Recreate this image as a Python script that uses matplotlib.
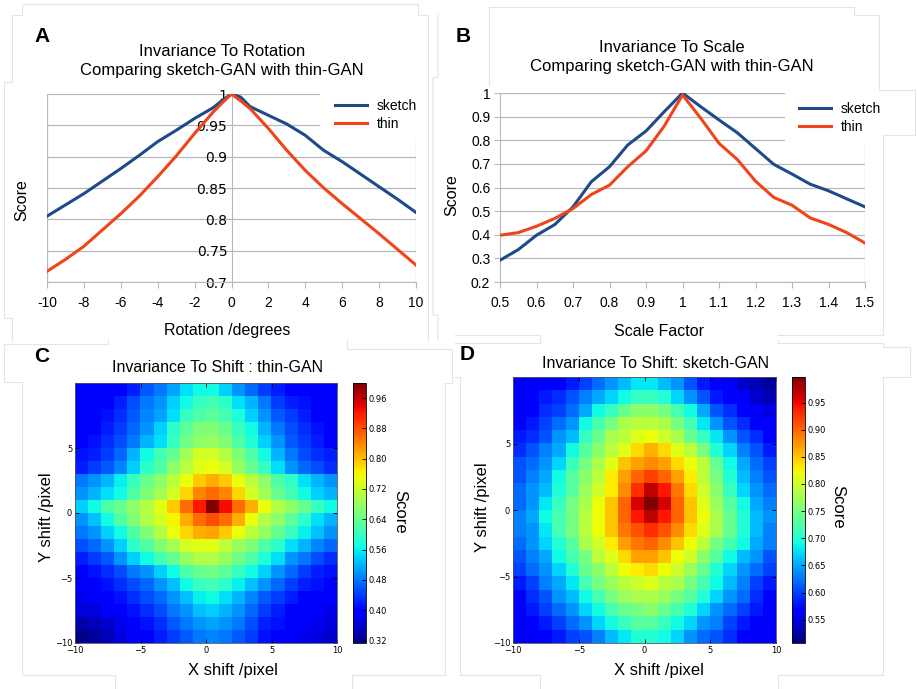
import matplotlib
matplotlib.use("Agg")
import matplotlib.pyplot as plt
from matplotlib.patches import Rectangle
from matplotlib.lines import Line2D
import numpy as np

# ---- panel A: rotation ----
rot_deg = [-10, -9, -8, -7, -6, -5, -4, -3, -2, -1, -0.5, 0, 0.5, 1, 2, 3, 4, 5, 6, 7, 8, 9, 10]
rot_sketch = [0.805, 0.823, 0.841, 0.861, 0.881, 0.902, 0.924, 0.942, 0.961, 0.978, 0.990, 1.0,
              0.995, 0.980, 0.966, 0.952, 0.934, 0.910, 0.892, 0.872, 0.852, 0.832, 0.811]
rot_thin = [0.717, 0.736, 0.757, 0.783, 0.809, 0.837, 0.868, 0.901, 0.937, 0.971, 0.986, 1.0,
            0.989, 0.977, 0.945, 0.910, 0.878, 0.850, 0.825, 0.801, 0.777, 0.752, 0.727]

# ---- panel B: scale ----
scale_factor = [0.5, 0.55, 0.6, 0.65, 0.7, 0.75, 0.8, 0.85, 0.9, 0.95, 1.0,
                1.05, 1.1, 1.15, 1.2, 1.25, 1.3, 1.35, 1.4, 1.45, 1.5]
scale_sketch = [0.292, 0.337, 0.398, 0.443, 0.518, 0.624, 0.688, 0.780, 0.839, 0.921, 1.0,
                0.942, 0.886, 0.832, 0.765, 0.698, 0.657, 0.614, 0.586, 0.552, 0.518]
scale_thin = [0.398, 0.409, 0.436, 0.469, 0.511, 0.570, 0.610, 0.688, 0.755, 0.860, 0.992,
              0.893, 0.787, 0.719, 0.627, 0.558, 0.525, 0.471, 0.444, 0.409, 0.365]

# ---- panel C: shift, thin-GAN (rows top y=9.5 -> bottom y=-9.5, cols x=-9.5 -> 9.5) ----
thin_shift = [
    [0.39, 0.39, 0.40, 0.40, 0.42, 0.46, 0.48, 0.51, 0.55, 0.57, 0.57, 0.54, 0.50, 0.47, 0.44, 0.42, 0.40, 0.40, 0.40, 0.39],
    [0.39, 0.39, 0.40, 0.42, 0.45, 0.48, 0.50, 0.54, 0.57, 0.60, 0.61, 0.59, 0.55, 0.52, 0.48, 0.44, 0.42, 0.41, 0.40, 0.39],
    [0.39, 0.40, 0.41, 0.43, 0.46, 0.49, 0.51, 0.55, 0.60, 0.62, 0.63, 0.61, 0.58, 0.54, 0.50, 0.46, 0.44, 0.42, 0.40, 0.40],
    [0.39, 0.40, 0.42, 0.44, 0.47, 0.50, 0.54, 0.59, 0.63, 0.66, 0.66, 0.64, 0.60, 0.57, 0.52, 0.48, 0.45, 0.43, 0.41, 0.40],
    [0.40, 0.41, 0.43, 0.45, 0.48, 0.52, 0.55, 0.60, 0.65, 0.67, 0.68, 0.66, 0.62, 0.58, 0.54, 0.50, 0.46, 0.44, 0.42, 0.40],
    [0.41, 0.42, 0.44, 0.47, 0.52, 0.57, 0.61, 0.64, 0.69, 0.73, 0.73, 0.70, 0.66, 0.62, 0.57, 0.52, 0.48, 0.45, 0.43, 0.42],
    [0.42, 0.44, 0.46, 0.49, 0.54, 0.59, 0.62, 0.67, 0.71, 0.74, 0.75, 0.73, 0.68, 0.64, 0.60, 0.55, 0.50, 0.47, 0.45, 0.43],
    [0.48, 0.50, 0.52, 0.56, 0.60, 0.64, 0.67, 0.71, 0.75, 0.79, 0.81, 0.79, 0.75, 0.71, 0.67, 0.62, 0.59, 0.55, 0.52, 0.50],
    [0.50, 0.52, 0.55, 0.57, 0.62, 0.66, 0.69, 0.73, 0.78, 0.84, 0.86, 0.84, 0.78, 0.73, 0.69, 0.64, 0.61, 0.57, 0.54, 0.52],
    [0.54, 0.57, 0.62, 0.64, 0.67, 0.70, 0.74, 0.79, 0.86, 0.92, 1.00, 0.93, 0.86, 0.81, 0.75, 0.70, 0.67, 0.64, 0.60, 0.57],
    [0.50, 0.53, 0.57, 0.62, 0.66, 0.70, 0.73, 0.76, 0.81, 0.86, 0.88, 0.86, 0.81, 0.75, 0.70, 0.67, 0.63, 0.59, 0.55, 0.52],
    [0.48, 0.50, 0.54, 0.57, 0.62, 0.66, 0.70, 0.75, 0.78, 0.81, 0.82, 0.79, 0.75, 0.71, 0.68, 0.64, 0.60, 0.56, 0.53, 0.50],
    [0.45, 0.47, 0.50, 0.54, 0.59, 0.62, 0.66, 0.69, 0.73, 0.74, 0.74, 0.71, 0.68, 0.66, 0.62, 0.59, 0.55, 0.52, 0.49, 0.47],
    [0.42, 0.44, 0.46, 0.50, 0.54, 0.57, 0.61, 0.64, 0.68, 0.70, 0.70, 0.68, 0.65, 0.62, 0.58, 0.55, 0.50, 0.48, 0.45, 0.43],
    [0.40, 0.41, 0.43, 0.45, 0.48, 0.50, 0.54, 0.57, 0.62, 0.64, 0.65, 0.63, 0.60, 0.57, 0.54, 0.50, 0.47, 0.44, 0.42, 0.41],
    [0.40, 0.40, 0.41, 0.43, 0.45, 0.47, 0.50, 0.53, 0.57, 0.60, 0.61, 0.59, 0.56, 0.53, 0.50, 0.47, 0.44, 0.42, 0.41, 0.40],
    [0.38, 0.39, 0.40, 0.41, 0.43, 0.45, 0.47, 0.50, 0.53, 0.56, 0.57, 0.55, 0.52, 0.49, 0.46, 0.44, 0.42, 0.40, 0.40, 0.39],
    [0.37, 0.37, 0.39, 0.40, 0.41, 0.43, 0.45, 0.48, 0.50, 0.53, 0.54, 0.52, 0.50, 0.47, 0.44, 0.42, 0.40, 0.40, 0.39, 0.38],
    [0.34, 0.35, 0.36, 0.38, 0.40, 0.41, 0.43, 0.46, 0.48, 0.50, 0.51, 0.50, 0.48, 0.45, 0.42, 0.41, 0.40, 0.39, 0.38, 0.37],
    [0.32, 0.33, 0.35, 0.37, 0.39, 0.40, 0.42, 0.44, 0.46, 0.48, 0.49, 0.48, 0.46, 0.44, 0.41, 0.40, 0.39, 0.38, 0.37, 0.36],
]

# ---- panel D: shift, sketch-GAN ----
sketch_shift = [
    [0.56, 0.56, 0.57, 0.57, 0.58, 0.60, 0.62, 0.64, 0.66, 0.68, 0.68, 0.66, 0.64, 0.61, 0.58, 0.57, 0.56, 0.54, 0.53, 0.52],
    [0.56, 0.57, 0.58, 0.59, 0.61, 0.63, 0.65, 0.67, 0.69, 0.71, 0.71, 0.70, 0.67, 0.64, 0.61, 0.58, 0.57, 0.56, 0.54, 0.53],
    [0.57, 0.57, 0.59, 0.60, 0.62, 0.65, 0.69, 0.71, 0.74, 0.76, 0.76, 0.75, 0.72, 0.69, 0.65, 0.61, 0.59, 0.57, 0.56, 0.55],
    [0.57, 0.58, 0.60, 0.62, 0.64, 0.69, 0.72, 0.75, 0.78, 0.79, 0.79, 0.78, 0.75, 0.72, 0.68, 0.64, 0.61, 0.59, 0.57, 0.56],
    [0.58, 0.59, 0.61, 0.64, 0.66, 0.71, 0.74, 0.78, 0.79, 0.81, 0.82, 0.80, 0.78, 0.74, 0.71, 0.68, 0.64, 0.61, 0.59, 0.57],
    [0.59, 0.61, 0.63, 0.65, 0.69, 0.73, 0.76, 0.79, 0.81, 0.84, 0.86, 0.84, 0.81, 0.79, 0.75, 0.70, 0.67, 0.63, 0.61, 0.58],
    [0.61, 0.62, 0.64, 0.67, 0.71, 0.75, 0.78, 0.81, 0.85, 0.87, 0.88, 0.87, 0.84, 0.82, 0.79, 0.74, 0.69, 0.65, 0.62, 0.60],
    [0.61, 0.63, 0.65, 0.69, 0.73, 0.76, 0.79, 0.83, 0.87, 0.90, 0.92, 0.90, 0.87, 0.83, 0.79, 0.75, 0.70, 0.66, 0.63, 0.61],
    [0.62, 0.64, 0.66, 0.70, 0.73, 0.77, 0.80, 0.83, 0.88, 0.93, 0.97, 0.94, 0.89, 0.84, 0.80, 0.76, 0.71, 0.67, 0.64, 0.62],
    [0.62, 0.64, 0.68, 0.71, 0.75, 0.78, 0.82, 0.85, 0.90, 0.96, 1.00, 0.96, 0.90, 0.85, 0.81, 0.77, 0.73, 0.69, 0.65, 0.63],
    [0.63, 0.65, 0.69, 0.72, 0.75, 0.79, 0.82, 0.85, 0.90, 0.94, 0.97, 0.94, 0.90, 0.85, 0.82, 0.78, 0.74, 0.70, 0.66, 0.64],
    [0.63, 0.64, 0.68, 0.72, 0.75, 0.79, 0.82, 0.85, 0.89, 0.91, 0.93, 0.91, 0.88, 0.84, 0.81, 0.78, 0.74, 0.70, 0.66, 0.63],
    [0.62, 0.64, 0.67, 0.70, 0.73, 0.78, 0.80, 0.83, 0.87, 0.89, 0.90, 0.88, 0.85, 0.82, 0.79, 0.75, 0.72, 0.69, 0.65, 0.63],
    [0.61, 0.63, 0.65, 0.69, 0.72, 0.75, 0.79, 0.81, 0.84, 0.87, 0.87, 0.85, 0.82, 0.80, 0.76, 0.73, 0.69, 0.66, 0.64, 0.61],
    [0.60, 0.62, 0.64, 0.67, 0.70, 0.74, 0.76, 0.79, 0.82, 0.83, 0.84, 0.82, 0.80, 0.77, 0.74, 0.70, 0.67, 0.64, 0.62, 0.60],
    [0.58, 0.60, 0.63, 0.65, 0.68, 0.72, 0.75, 0.77, 0.79, 0.80, 0.81, 0.79, 0.78, 0.75, 0.72, 0.69, 0.66, 0.63, 0.60, 0.58],
    [0.57, 0.59, 0.61, 0.64, 0.66, 0.69, 0.72, 0.75, 0.77, 0.78, 0.78, 0.77, 0.75, 0.73, 0.70, 0.67, 0.64, 0.62, 0.59, 0.57],
    [0.57, 0.58, 0.60, 0.62, 0.64, 0.67, 0.69, 0.72, 0.74, 0.75, 0.76, 0.74, 0.72, 0.70, 0.67, 0.64, 0.62, 0.60, 0.58, 0.57],
    [0.56, 0.57, 0.58, 0.60, 0.62, 0.64, 0.67, 0.69, 0.71, 0.73, 0.73, 0.71, 0.69, 0.67, 0.64, 0.63, 0.60, 0.58, 0.57, 0.56],
    [0.56, 0.56, 0.57, 0.58, 0.60, 0.61, 0.63, 0.66, 0.68, 0.70, 0.70, 0.69, 0.67, 0.64, 0.62, 0.61, 0.59, 0.57, 0.56, 0.56],
]

SKETCH = "#1f4a8a"
THIN = "#f0441a"
GRID = "#b8b8b8"
FRAME = "#e4e4e4"
W, H = 917, 689
LO = "Liberation Sans"

fig = plt.figure(figsize=(W / 100, H / 100), dpi=100)


def fx(px):
    return px / W


def fy(py):
    return 1 - py / H


def line_chart(rect, x, ys, xlim, ylim, xticks, xlabels, yticks, ylabels):
    ax = fig.add_axes(rect)
    ax.plot(x, ys[0], color=SKETCH, lw=2.2, label="sketch", zorder=3)
    ax.plot(x, ys[1], color=THIN, lw=2.2, label="thin", zorder=3)
    ax.set_xlim(*xlim)
    ax.set_ylim(*ylim)
    ax.set_xticks(xticks)
    ax.set_xticklabels(xlabels, family=LO)
    ax.set_yticks(yticks)
    ax.set_yticklabels(ylabels, family=LO)
    ax.yaxis.grid(True, color=GRID, lw=0.9)
    ax.set_axisbelow(True)
    for s in ["top", "right"]:
        ax.spines[s].set_visible(False)
    for s in ["left", "bottom"]:
        ax.spines[s].set_color(GRID)
    ax.tick_params(axis="x", length=4, color=GRID, labelsize=10, pad=6)
    ax.tick_params(axis="y", length=4, color=GRID, labelsize=10, pad=3)
    return ax


# ============ A ============
axA = line_chart([fx(47), fy(282), fx(369), 188 / H], rot_deg, [rot_sketch, rot_thin],
                 (-10, 10), (0.7, 1.0), list(range(-10, 11, 2)), [str(v) for v in range(-10, 11, 2)],
                 [0.7, 0.75, 0.8, 0.85, 0.9, 0.95, 1.0], ["0.7", "0.75", "0.8", "0.85", "0.9", "0.95", "1"])
axA.spines["left"].set_position(("data", 0))
axA.tick_params(axis="y", length=0)
axA.axvline(-10, color=GRID, lw=0.9, zorder=1)
axA.axvline(10, color=GRID, lw=0.9, zorder=1)

# ============ B ============
axB = line_chart([fx(500), fy(282), fx(365), 189 / H], scale_factor, [scale_sketch, scale_thin],
                 (0.5, 1.5), (0.2, 1.0),
                 [0.5, 0.6, 0.7, 0.8, 0.9, 1.0, 1.1, 1.2, 1.3, 1.4, 1.5],
                 ["0.5", "0.6", "0.7", "0.8", "0.9", "1", "1.1", "1.2", "1.3", "1.4", "1.5"],
                 [0.2, 0.3, 0.4, 0.5, 0.6, 0.7, 0.8, 0.9, 1.0],
                 ["0.2", "0.3", "0.4", "0.5", "0.6", "0.7", "0.8", "0.9", "1"])
axB.axvline(1.5, color=GRID, lw=0.9, zorder=1)

# white legend boxes covering the plot corner, then the legends
for (x0, y0, x1, y1) in [(320, 84, 430, 140), (785, 88, 914, 143)]:
    fig.add_artist(Rectangle((fx(x0), fy(y1)), fx(x1 - x0), (y1 - y0) / H, transform=fig.transFigure,
                             facecolor="white", edgecolor="none", zorder=2))
handles, labels = axA.get_legend_handles_labels()
for anchor in [(fx(324), fy(88)), (fx(788), fy(91))]:
    leg = fig.legend(handles, labels, loc="upper left", bbox_to_anchor=anchor, frameon=False,
                     handlelength=2.3, handletextpad=0.7, labelspacing=0.25, borderpad=0.3,
                     prop={"family": LO, "size": 10})
    leg.set_zorder(3)

# titles / labels for the top row
fig.text(fx(222), fy(61), "Invariance To Rotation\nComparing sketch-GAN with thin-GAN",
         ha="center", va="center", fontsize=12, family=LO, linespacing=1.38)
fig.text(fx(672), fy(57), "Invariance To Scale\nComparing sketch-GAN with thin-GAN",
         ha="center", va="center", fontsize=12, family=LO, linespacing=1.38)
fig.text(fx(22), fy(200), "Score", rotation=90, ha="center", va="center", fontsize=11.5, family=LO)
fig.text(fx(452), fy(195), "Score", rotation=90, ha="center", va="center", fontsize=11.5, family=LO)
fig.text(fx(227), fy(331), "Rotation /degrees", ha="center", va="center", fontsize=11.5, family=LO)
fig.text(fx(659), fy(331), "Scale Factor", ha="center", va="center", fontsize=11.5, family=LO)


# ============ C / D heatmaps ============
def shift_panel(rect, crect, data, vmin, vmax, cticks, title, tpos, ylpos, xlpos, cbpos):
    ax = fig.add_axes(rect)
    im = ax.imshow(np.array(data), cmap="jet", origin="upper", extent=[-10, 10, -10, 10],
                   interpolation="nearest", aspect="auto", vmin=vmin, vmax=vmax)
    ax.set_xticks([-10, -5, 0, 5, 10])
    ax.set_yticks([-10, -5, 0, 5])
    ax.tick_params(direction="in", top=True, right=True, labelsize=6, length=3, width=0.6, pad=2)
    for s in ax.spines.values():
        s.set_linewidth(0.6)
        s.set_color("#555555")
    cax = fig.add_axes(crect)
    cb = fig.colorbar(im, cax=cax, ticks=cticks, format="%.2f")
    cb.ax.tick_params(labelsize=6, length=3, width=0.6, direction="in", pad=2)
    cb.outline.set_linewidth(0.6)
    fig.text(tpos[0], tpos[1], title, ha="center", va="center", fontsize=11.5, family=LO)
    fig.text(ylpos[0], ylpos[1], "Y shift /pixel", rotation=90, ha="center", va="center",
             fontsize=12, family=LO)
    fig.text(xlpos[0], xlpos[1], "X shift /pixel", ha="center", va="center", fontsize=12, family=LO)
    fig.text(cbpos[0], cbpos[1], "Score", rotation=270, ha="center", va="center", fontsize=12, family=LO)


shift_panel([fx(75), fy(643), fx(262), 260 / H], [fx(353), fy(643), fx(13), 260 / H],
            thin_shift, 0.313, 1.0, [0.32, 0.40, 0.48, 0.56, 0.64, 0.72, 0.80, 0.88, 0.96],
            "Invariance To Shift : thin-GAN", (fx(217), fy(368)), (fx(47), fy(517)),
            (fx(233), fy(671)), (fx(400), fy(512)))
shift_panel([fx(513), fy(643), fx(263), 266 / H], [fx(792), fy(643), fx(13), 266 / H],
            sketch_shift, 0.507, 0.997, [0.55, 0.60, 0.65, 0.70, 0.75, 0.80, 0.85, 0.90, 0.95],
            "Invariance To Shift: sketch-GAN", (fx(655), fy(363)), (fx(483), fy(507)),
            (fx(659), fy(670)), (fx(838), fy(507)))

# panel letters
for letter, (px, py) in zip("ABCD", [(42, 37), (463, 37), (42, 357), (467, 355)]):
    fig.text(fx(px), fy(py), letter, ha="center", va="center", fontsize=15, fontweight="bold",
             family=LO)

# faint outlines of the pasted panels
frames = [
    [(12, 82), (12, 15), (22, 15), (22, 4), (418, 4), (418, 15), (428, 15), (428, 340)],
    [(12, 82), (4, 82), (4, 318), (12, 318), (12, 340)],
    [(438, 15), (438, 77), (433, 78), (433, 315), (438, 315), (438, 340)],
    [(489, 85), (489, 7), (854, 7), (854, 15), (879, 15), (879, 90), (915, 90), (915, 135),
     (883, 135), (883, 335), (778, 335)],
    [(455, 335), (540, 335), (540, 340)],
    [(108, 340), (108, 344), (4, 344), (4, 382), (22, 382), (22, 675), (115, 675), (115, 689)],
    [(347, 340), (347, 349), (452, 349), (452, 383), (445, 383), (445, 675), (352, 675), (352, 689)],
    [(455, 343), (540, 343), (540, 340)],
    [(778, 340), (778, 343), (883, 343), (883, 347), (910, 347), (910, 377), (883, 377),
     (883, 675), (778, 675), (778, 689)],
    [(455, 377), (460, 377), (460, 675), (540, 675), (540, 689)],
]
for pts in frames:
    fig.add_artist(Line2D([fx(p[0]) for p in pts], [fy(p[1]) for p in pts], transform=fig.transFigure,
                          color=FRAME, lw=0.8, zorder=4))

fig.savefig("out.png", dpi=100)
